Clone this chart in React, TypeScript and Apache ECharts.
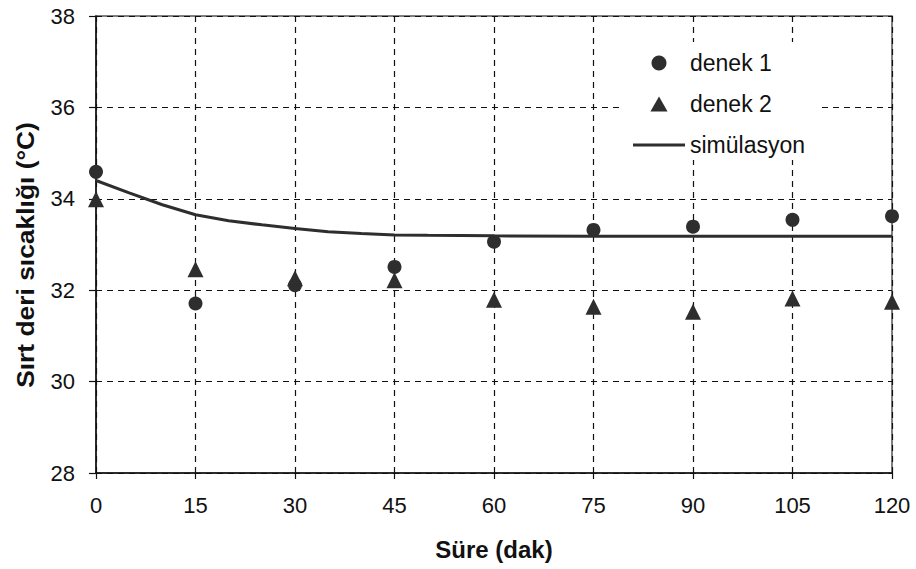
import React, { useEffect, useRef } from "react";
import * as echarts from "echarts";

const times = [0, 15, 30, 45, 60, 75, 90, 105, 120];
const denek1 = [34.59, 31.71, 32.11, 32.51, 33.06, 33.32, 33.39, 33.54, 33.62];
const denek2 = [33.99, 32.46, 32.26, 32.22, 31.79, 31.64, 31.53, 31.82, 31.75];
const simTimes = [0, 5, 10, 15, 20, 25, 30, 35, 40, 45, 50, 60, 75, 90, 105, 120];
const simValues = [34.4, 34.13, 33.87, 33.65, 33.52, 33.43, 33.35, 33.28, 33.24, 33.21, 33.2, 33.19, 33.18, 33.18, 33.18, 33.18];

const seriesNames = ["denek 1", "denek 2", "simülasyon"];
const xTitle = "Süre (dak)";
const yTitle = "Sırt deri sıcaklığı (°C)";
const font = "Arial, 'Liberation Sans', sans-serif";
const ink = "#2e2e2e";
const textInk = "#111";

export default function App() {
  const ref = useRef<HTMLDivElement>(null);
  useEffect(() => {
    const chart = echarts.init(ref.current!, undefined, { renderer: "svg" });
    chart.setOption({
      animation: false,
      backgroundColor: "#ffffff",
      textStyle: { fontFamily: font },
      grid: {
        left: 96,
        right: 24,
        top: 16,
        bottom: 96,
        show: true,
        borderColor: "#555",
        borderWidth: 1.5,
      },
      legend: {
        orient: "vertical",
        left: 621,
        top: 42,
        padding: [8, 16, 2, 12],
        backgroundColor: "#ffffff",
        itemGap: 15,
        itemWidth: 52,
        itemHeight: 15,
        symbolKeepAspect: true,
        textStyle: { fontSize: 23, lineHeight: 26, color: textInk, fontFamily: font },
        data: [
          { name: seriesNames[0], icon: "circle" },
          { name: seriesNames[1], icon: "path://M8,0 L16,14 L0,14 Z" },
          { name: seriesNames[2], icon: "path://M0,0 H52 V3 H0 Z" },
        ],
      },
      graphic: [
        {
          type: "text",
          x: 25,
          y: 255,
          rotation: Math.PI / 2,
          scaleX: 1.1,
          style: {
            text: yTitle,
            fontSize: 24,
            fontWeight: "bold",
            fontFamily: font,
            fill: textInk,
            align: "center",
            verticalAlign: "middle",
          },
        },
      ],
      xAxis: {
        type: "value",
        min: 0,
        max: 120,
        interval: 15,
        name: xTitle,
        nameLocation: "middle",
        nameGap: 64,
        nameTextStyle: { fontSize: 24, fontWeight: "bold", color: textInk, fontFamily: font },
        axisLine: { onZero: false, lineStyle: { color: "#111", width: 1.5 } },
        axisTick: { show: true, inside: false, length: 6, lineStyle: { color: "#111", width: 1.2 } },
        axisLabel: { fontSize: 22, color: textInk, margin: 21, fontFamily: font },
        splitLine: { show: true, lineStyle: { color: "#111", type: [6, 5], width: 1.2 } },
      },
      yAxis: {
        type: "value",
        min: 28,
        max: 38,
        interval: 2,
        axisLine: { show: true, onZero: false, lineStyle: { color: "#111", width: 1.5 } },
        axisTick: { show: true, length: 7, lineStyle: { color: "#111", width: 1.2 } },
        axisLabel: { fontSize: 22, color: textInk, margin: 21, fontFamily: font },
        splitLine: { show: true, lineStyle: { color: "#111", type: [6, 5], width: 1.2 } },
      },
      series: [
        {
          name: seriesNames[0],
          type: "scatter",
          symbol: "circle",
          symbolSize: 14,
          itemStyle: { color: ink, opacity: 1 },
          data: times.map((t, i) => [t, denek1[i]]),
          z: 5,
        },
        {
          name: seriesNames[1],
          type: "scatter",
          symbol: "triangle",
          symbolSize: 16,
          itemStyle: { color: ink, opacity: 1 },
          data: times.map((t, i) => [t, denek2[i]]),
          z: 5,
        },
        {
          name: seriesNames[2],
          type: "line",
          symbol: "none",
          lineStyle: { color: ink, width: 3 },
          itemStyle: { color: ink },
          data: simTimes.map((t, i) => [t, simValues[i]]),
          z: 4,
        },
      ],
    });
    return () => chart.dispose();
  }, []);
  return (
    <div
      ref={ref}
      style={{ position: "fixed", left: 0, top: 0, width: 916, height: 569 }}
    />
  );
}
